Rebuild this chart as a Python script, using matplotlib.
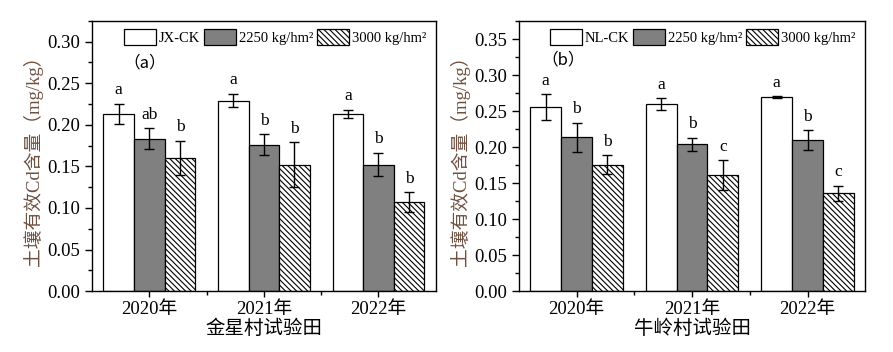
import matplotlib
matplotlib.use("Agg")
import matplotlib.pyplot as plt
import numpy as np
from matplotlib.ticker import MultipleLocator, FixedLocator

plt.rcParams['font.family'] = ['Liberation Serif', 'Noto Sans CJK SC']
plt.rcParams['hatch.linewidth'] = 0.8

years = ['2020年', '2021年', '2022年']

# Panel (a) 金星村
a_labels = ['JX-CK', '2250 kg/hm²', '3000 kg/hm²']
a_ck = [0.213, 0.229, 0.213]
a_ck_err = [0.012, 0.008, 0.005]
a_2250 = [0.183, 0.176, 0.152]
a_2250_err = [0.0125, 0.0125, 0.014]
a_3000 = [0.160, 0.152, 0.107]
a_3000_err = [0.021, 0.027, 0.012]
a_letters = [['a', 'a', 'a'], ['ab', 'b', 'b'], ['b', 'b', 'b']]

# Panel (b) 牛岭村
b_labels = ['NL-CK', '2250 kg/hm²', '3000 kg/hm²']
b_ck = [0.256, 0.260, 0.270]
b_ck_err = [0.0175, 0.0085, 0.001]
b_2250 = [0.214, 0.204, 0.210]
b_2250_err = [0.020, 0.009, 0.0135]
b_3000 = [0.176, 0.161, 0.136]
b_3000_err = [0.013, 0.021, 0.0105]
b_letters = [['a', 'a', 'a'], ['b', 'b', 'b'], ['b', 'c', 'c']]

fig = plt.figure(figsize=(8.93, 3.52), dpi=100)
ax1 = fig.add_axes([0.103, 0.173, 0.385, 0.768])
ax2 = fig.add_axes([0.581, 0.173, 0.388, 0.768])

ylabel_color = '#6e5040'
styles = [dict(color='white', hatch=None),
          dict(color='#808080', hatch=None),
          dict(color='white', hatch='\\\\\\\\\\\\')]

def draw(ax, series, errs, letters, labels, ylim, ymajor, xlabel, tag, tagpos):
    x = np.arange(1, len(years) + 1)
    w = 0.267
    handles = []
    for i, (vals, err) in enumerate(zip(series, errs)):
        pos = x + (i - 1) * w
        st = styles[i]
        b = ax.bar(pos, vals, w, color=st['color'], edgecolor='black',
                   linewidth=0.9, hatch=st['hatch'], label=labels[i], zorder=2)
        handles.append(b)
        ax.errorbar(pos, vals, yerr=err, fmt='none', ecolor='black',
                    elinewidth=1.0, capsize=3.5, capthick=1.0, zorder=3)
        for p, v, e, t in zip(pos, vals, err, letters[i]):
            ax.annotate(t, (p, v + e), xytext=(0, 4), textcoords='offset points',
                        ha='center', va='bottom', fontsize=12.5)
    ax.set_xlim(0.5, 3.5)
    ax.set_ylim(*ylim)
    ax.yaxis.set_major_locator(MultipleLocator(ymajor))
    ax.yaxis.set_minor_locator(MultipleLocator(ymajor / 2))
    ax.yaxis.set_major_formatter(matplotlib.ticker.FormatStrFormatter('%.2f'))
    ax.set_xticks(x)
    ax.set_xticklabels(years, fontsize=13.5)
    ax.xaxis.set_minor_locator(FixedLocator([1.5, 2.5]))
    ax.tick_params(axis='y', which='major', direction='out', length=5, width=1, labelsize=13.5)
    ax.tick_params(axis='y', which='minor', direction='out', length=3, width=1)
    ax.tick_params(axis='x', which='major', direction='out', length=4, width=1, pad=3)
    ax.tick_params(axis='x', which='minor', direction='out', length=3, width=1)
    for s in ax.spines.values():
        s.set_linewidth(1.0)
    ax.set_ylabel('土壤有效Cd含量（mg/kg）', fontsize=13.5, color=ylabel_color, labelpad=3)
    ax.set_xlabel(xlabel, fontsize=14, labelpad=0,
                  family=['Noto Sans CJK SC', 'DejaVu Sans'])
    ax.text(tagpos[0], tagpos[1], tag, ha='center', va='center', fontsize=12,
            family=['Noto Sans CJK SC', 'DejaVu Sans'])
    ax.legend(handles=handles, loc='upper right', ncol=3, frameon=False,
              fontsize=10.5, handlelength=2.2, handleheight=1.3,
              handletextpad=0.2, columnspacing=0.25, borderaxespad=0.15,
              bbox_to_anchor=(0.995, 1.0))

draw(ax1, [a_ck, a_2250, a_3000], [a_ck_err, a_2250_err, a_3000_err], a_letters,
     a_labels, (0, 0.325), 0.05, '金星村试验田', '（a）', (0.96, 0.274))
draw(ax2, [b_ck, b_2250, b_3000], [b_ck_err, b_2250_err, b_3000_err], b_letters,
     b_labels, (0, 0.376), 0.05, '牛岭村试验田', '（b）', (0.887, 0.321))

fig.savefig('out.png', dpi=100)
